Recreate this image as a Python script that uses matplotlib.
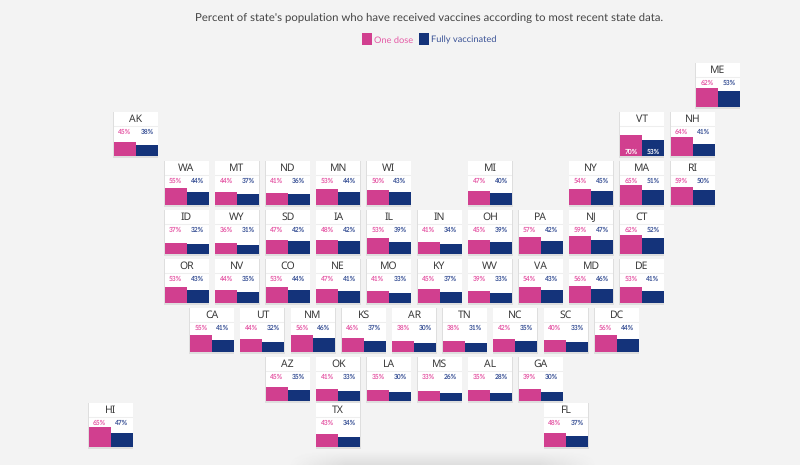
import matplotlib
matplotlib.use('Agg')
from matplotlib import pyplot as plt
from matplotlib.patches import Rectangle
import numpy as np

# values
states = ['ME', 'AK', 'VT', 'NH',
          'WA', 'MT', 'ND', 'MN', 'WI', 'MI', 'NY', 'MA', 'RI',
          'ID', 'WY', 'SD', 'IA', 'IL', 'IN', 'OH', 'PA', 'NJ', 'CT',
          'OR', 'NV', 'CO', 'NE', 'MO', 'KY', 'WV', 'VA', 'MD', 'DE',
          'CA', 'UT', 'NM', 'KS', 'AR', 'TN', 'NC', 'SC', 'DC',
          'AZ', 'OK', 'LA', 'MS', 'AL', 'GA',
          'HI', 'TX', 'FL']
one_dose = [62, 45, 70, 64,
            55, 44, 41, 53, 50, 47, 54, 65, 59,
            37, 36, 47, 48, 53, 41, 45, 57, 59, 62,
            53, 44, 53, 47, 41, 45, 39, 54, 56, 53,
            55, 44, 56, 46, 38, 38, 42, 40, 56,
            45, 41, 35, 33, 35, 39,
            65, 43, 48]
fully = [53, 38, 53, 41,
         44, 37, 36, 44, 43, 40, 45, 51, 50,
         32, 31, 42, 42, 39, 34, 39, 42, 47, 52,
         43, 35, 44, 41, 33, 37, 33, 43, 46, 41,
         41, 32, 46, 37, 30, 31, 35, 33, 44,
         35, 33, 30, 26, 28, 30,
         47, 34, 37]

# tile grid layout
grid_col = [10, -1, 9, 10,
            0, 1, 2, 3, 4, 6, 8, 9, 10,
            0, 1, 2, 3, 4, 5, 6, 7, 8, 9,
            0, 1, 2, 3, 4, 5, 6, 7, 8, 9,
            0, 1, 2, 3, 4, 5, 6, 7, 8,
            2, 3, 4, 5, 6, 7,
            -2, 3, 7]
grid_shift = [0.5, 0, 0, 0,
              0, 0, 0, 0, 0, 0, 0, 0, 0,
              0, 0, 0, 0, 0, 0, 0, 0, 0, 0,
              0, 0, 0, 0, 0, 0, 0, 0, 0, 0,
              0.5, 0.5, 0.5, 0.5, 0.5, 0.5, 0.5, 0.5, 0.5,
              0, 0, 0, 0, 0, 0,
              0.5, 0, 0.5]
grid_row = [0, 1, 1, 1] + [2] * 9 + [3] * 10 + [4] * 10 + [5] * 9 + [6] * 6 + [7] * 3

PINK = '#d13f8f'
NAVY = '#14337a'
BG = '#f4f4f4'
W, H = 800, 465
TILE = 44
plt.rcParams['font.family'] = ['Lato', 'DejaVu Sans']
plt.rcParams['text.hinting'] = 'no_hinting'

fig = plt.figure(figsize=(W / 100, H / 100), dpi=100, facecolor=BG)

# faint page shadow along the bottom edge
back = fig.add_axes([0, 0, 1, 1], zorder=0)
xx, yy = np.meshgrid(np.arange(W), np.arange(H))
fade = np.clip((yy - 450) / 15, 0, 1) * np.clip((xx - 285) / 60, 0, 1) * np.clip((600 - xx) / 60, 0, 1)
back.imshow(244 - 22 * fade, cmap='gray', vmin=0, vmax=255, aspect='auto')
back.axis('off')


def add_tile(name, a, b, col, shift, row):
    x = 164.5 + (col + shift) * 50.6
    y = 63 + row * 49 - (3 if row == 7 else 0)
    # soft shadow under the card
    fig.patches.append(Rectangle(((x - 0.5) / W, 1 - (y + TILE + 1.8) / H), (TILE + 1) / W, (TILE + 2) / H,
                                 transform=fig.transFigure, fc='#dedede', ec='none', zorder=1))
    ax = fig.add_axes([x / W, 1 - (y + TILE) / H, TILE / W, TILE / H], zorder=2)
    ax.set_xlim(0, 2)
    ax.set_ylim(0, 146)
    ax.set_facecolor('white')
    ax.bar([0.5, 1.5], [a, b], width=1, color=[PINK, NAVY])
    ax.axhline(99, color='#eeeeee', lw=0.8)
    ax.text(1, 121, name, ha='center', va='center', fontsize=7.5, family=['Noto Sans', 'DejaVu Sans'],
            color='#3a3a3a')
    inside = a >= 70
    ax.text(0.5, 13 if inside else 80, f'{a}%', ha='center', va='center', fontsize=4.8,
            fontweight='bold', color='white' if inside else '#e55aa6')
    ax.text(1.5, 13 if inside else 80, f'{b}%', ha='center', va='center', fontsize=4.8,
            fontweight='bold', color='white' if inside else '#3a5296')
    ax.set_xticks([])
    ax.set_yticks([])
    for s in ax.spines.values():
        s.set_visible(False)


for i in range(len(states)):
    add_tile(states[i], one_dose[i], fully[i], grid_col[i], grid_shift[i], grid_row[i])

fig.text(429.5 / W, 1 - 17.5 / H, "Percent of state's population who have received vaccines according to most recent state data.",
         ha='center', va='center', fontsize=8.2, color='#444444')
fig.patches.append(Rectangle((362 / W, 1 - 45.5 / H), 10 / W, 12.5 / H, transform=fig.transFigure, fc=PINK, ec='none', zorder=3))
fig.patches.append(Rectangle((419 / W, 1 - 45.5 / H), 10 / W, 12.5 / H, transform=fig.transFigure, fc=NAVY, ec='none', zorder=3))
fig.text(374 / W, 1 - 40 / H, 'One dose', ha='left', va='center', fontsize=6.7, color='#e55aa6')
fig.text(431 / W, 1 - 40 / H, 'Fully vaccinated', ha='left', va='center', fontsize=6.7, color='#3a5296')

fig.savefig('out.png', dpi=100, facecolor=BG)
